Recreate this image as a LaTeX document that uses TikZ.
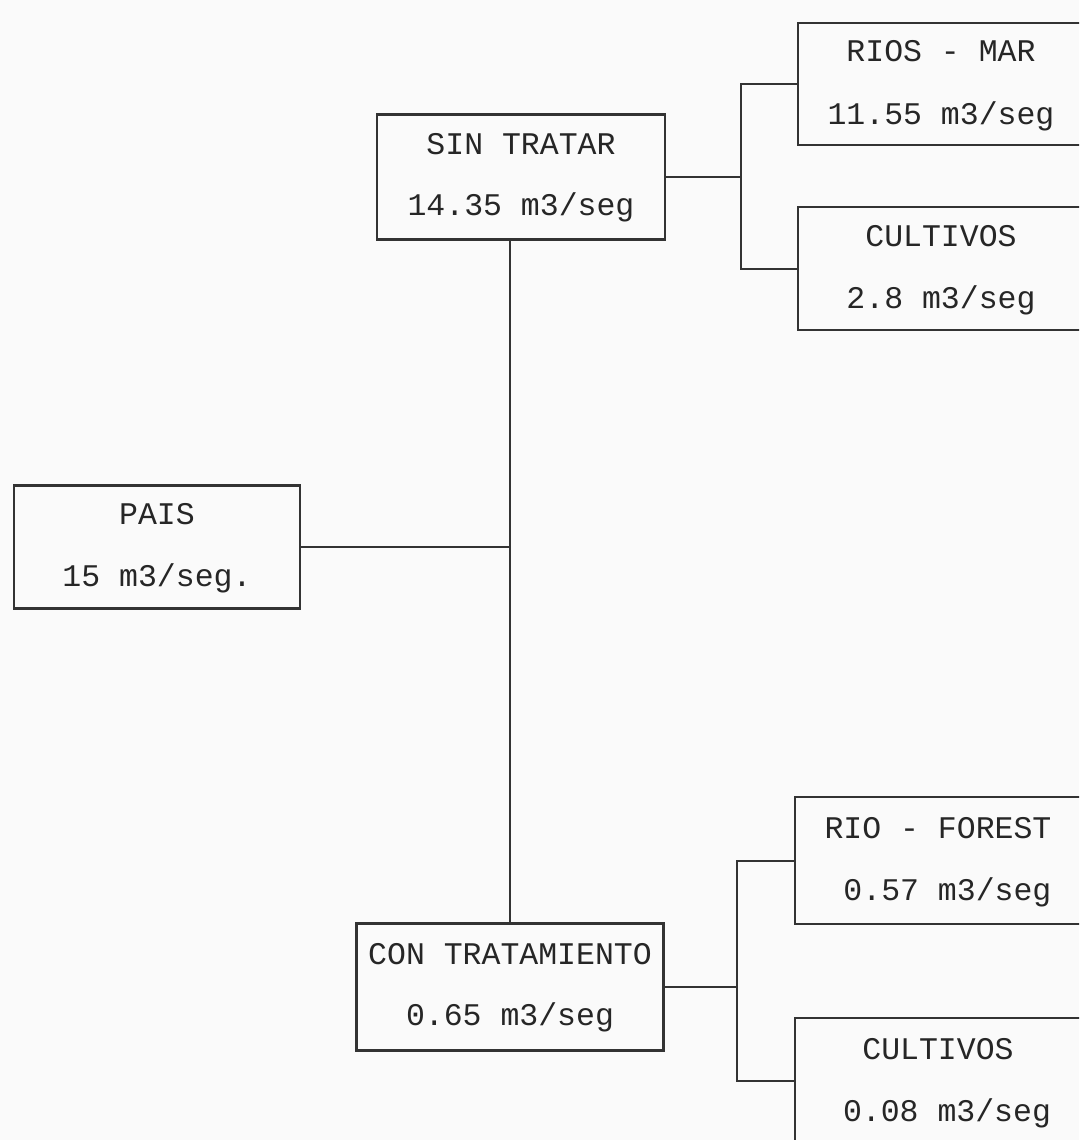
\documentclass[tikz,border=0pt]{standalone}
\usepackage{fontspec}
\setmonofont{Liberation Mono}
\begin{document}
\begin{tikzpicture}[x=1pt,y=-1pt,
  box/.style={draw=black!80, line width=2.4pt, rectangle, inner sep=0pt},
  lbl/.style={anchor=base, inner sep=0pt, font=\ttfamily\fontsize{31.5}{36}\selectfont, text=black!85},
  conn/.style={draw=black!80, line width=2pt}]
\useasboundingbox (0,0) rectangle (1079,1140);
\fill[black!2] (0,0) rectangle (1079,1140);
\begin{scope}
\clip (0,0) rectangle (1079,1140);
% boxes
\node[box, minimum width=286pt, minimum height=123pt] (pais) at (157,547) {};
\node[box, minimum width=288pt, minimum height=125pt] (st) at (521,177) {};
\node[box, minimum width=307pt, minimum height=127pt] (con) at (510,987) {};
\node[box, minimum width=286pt, minimum height=122pt] (rm) at (941,84) {};
\node[box, minimum width=286pt, minimum height=123pt] (cu1) at (941,268.5) {};
\node[box, minimum width=286pt, minimum height=127pt] (rf) at (938,860.5) {};
\node[box, minimum width=286pt, minimum height=126pt] (cu2) at (938,1081) {};
% labels
\node[lbl] (pais1) at ([yshift=23pt]pais.center) {PAIS};
\node[lbl] (pais2) at ([yshift=-39pt]pais.center) {15 m3/seg.};
\node[lbl] (st1) at ([yshift=23pt]st.center) {SIN TRATAR};
\node[lbl] (st2) at ([yshift=-38pt]st.center) {14.35 m3/seg};
\node[lbl] (con1) at ([yshift=23pt]con.center) {CON TRATAMIENTO};
\node[lbl] (con2) at ([yshift=-38pt]con.center) {0.65 m3/seg};
\node[lbl] (rm1) at ([yshift=22pt]rm.center) {RIOS - MAR};
\node[lbl] (rm2) at ([yshift=-40pt]rm.center) {11.55 m3/seg};
\node[lbl] (cu11) at ([yshift=22pt]cu1.center) {CULTIVOS};
\node[lbl] (cu12) at ([yshift=-40pt]cu1.center) {2.8 m3/seg};
\node[lbl] (rf1) at ([yshift=22pt]rf.center) {RIO - FOREST};
\node[lbl] (rf2) at ([yshift=-40pt]rf.center) {\hphantom{0}0.57 m3/seg};
\node[lbl] (cu21) at ([yshift=22pt]cu2.center) {CULTIVOS};
\node[lbl] (cu22) at ([xshift=9pt,yshift=-40pt]cu2.center) {0.08 m3/seg};
% connectors
\coordinate (j) at (510,547);
\draw[conn] (pais.east) -- (j);
\draw[conn] (st.south -| j) -- (con.north -| j);
\coordinate (b1) at (741,177);
\draw[conn] (st.east) -- (b1);
\draw[conn] (rm.west) -| (b1) |- (cu1.west);
\coordinate (b2) at (737,987);
\draw[conn] (con.east) -- (b2);
\draw[conn] (rf.west) -| (b2) |- (cu2.west);
\end{scope}
\end{tikzpicture}
\end{document}
